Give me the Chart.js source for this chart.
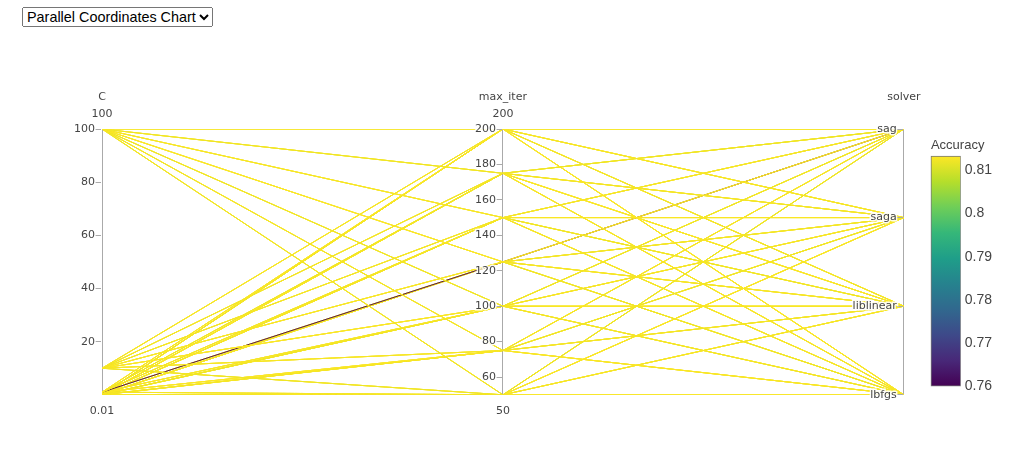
<!DOCTYPE html>
<html>
<head>
<meta charset="utf-8">
<title>Parallel Coordinates Chart</title>
<script src="https://cdn.jsdelivr.net/npm/chart.js@4.4.1/dist/chart.umd.min.js"></script>
<style>
    html, body { margin: 0; padding: 0; background: #fff; }
    #wrap { position: relative; width: 1023px; height: 461px; }
    #chartType { position: absolute; left: 22px; top: 7px; z-index: 2; font: 14.4px Arial, "Liberation Sans", sans-serif; }
    #myChart { position: absolute; left: 0; top: 0; }
</style>
</head>
<body>
<div id="wrap">
    <select id="chartType">
        <option>Parallel Coordinates Chart</option>
        <option>Scatter Chart</option>
    </select>
    <canvas id="myChart" width="1023" height="461"></canvas>
</div>
<script>
// axis names and the range labels plotly puts above / below each axis
const axisNames = ['C', 'max_iter', 'solver']
const rangeTopLabels = ['100', '200', '']
const rangeBottomLabels = ['0.01', '50', '']

// searched hyper parameters
const cValues = [0.01, 0.1, 1, 10, 100]
const maxIterValues = [50, 75, 100, 125, 150, 175, 200]
const solverNames = ['lbfgs', 'liblinear', 'saga', 'sag']

const cTicks = [20, 40, 60, 80, 100]
const maxIterTicks = [60, 80, 100, 120, 140, 160, 180, 200]
const accuracyTicks = [0.76, 0.77, 0.78, 0.79, 0.8, 0.81]

// accuracy, one line per C value: 7 max_iter groups x 4 solvers
const accuracy = [
    [0.8127, 0.8120, 0.8127, 0.8133,  0.8120, 0.8127, 0.8133, 0.8127,  0.8127, 0.8120, 0.8127, 0.8127,  0.8133, 0.8127, 0.8120, 0.8127,  0.8127, 0.8127, 0.8133, 0.8120,  0.8120, 0.8127, 0.8127, 0.8133,  0.8127, 0.8133, 0.8120, 0.8127],
    [0.8120, 0.8127, 0.8133, 0.8127,  0.8127, 0.8133, 0.8120, 0.8127,  0.8133, 0.8127, 0.8127, 0.8120,  0.8127, 0.8120, 0.8133, 0.8127,  0.8120, 0.8133, 0.8127, 0.8127,  0.8127, 0.8120, 0.8127, 0.8133,  0.8133, 0.8127, 0.8120, 0.8127],
    [0.8127, 0.8133, 0.8120, 0.8127,  0.8120, 0.8127, 0.8127, 0.8133,  0.8127, 0.8120, 0.8133, 0.8127,  0.8127, 0.8133, 0.8127, 0.7600,  0.8133, 0.8120, 0.8127, 0.8127,  0.8127, 0.8127, 0.8133, 0.8120,  0.8120, 0.8127, 0.8127, 0.8133],
    [0.8133, 0.8127, 0.8127, 0.8120,  0.8127, 0.8120, 0.8133, 0.8127,  0.8120, 0.8127, 0.8127, 0.8133,  0.8127, 0.8127, 0.8120, 0.8133,  0.8127, 0.8133, 0.8120, 0.8127,  0.8133, 0.8127, 0.8120, 0.8127,  0.8127, 0.8120, 0.8133, 0.8127],
    [0.8127, 0.8127, 0.8133, 0.8120,  0.8133, 0.8127, 0.8120, 0.8127,  0.8127, 0.8133, 0.8127, 0.8120,  0.8120, 0.8127, 0.8127, 0.8133,  0.8127, 0.8120, 0.8133, 0.8127,  0.8127, 0.8133, 0.8127, 0.8120,  0.8133, 0.8127, 0.8127, 0.8127]
]

const colorbarTitle = 'Accuracy'

// viridis colour scale
const viridis = ['#440154', '#482878', '#3e4989', '#31688e', '#26828e', '#1f9e89', '#35b779', '#6ece58', '#b5de2b', '#fde725']

// x positions: axes at 0, 1, 2; the colorbar sits right of the solver axis
const xMax = 2.142
const colorbarX = 2.105
const labelShift = 0.0175   // tick labels sit a few px left of each axis

const cRange = [Math.min(...cValues), Math.max(...cValues)]
const iterRange = [Math.min(...maxIterValues), Math.max(...maxIterValues)]
const accMin = Math.min(...accuracy.flat())
const accMax = Math.max(...accuracy.flat())

function hexToRgb(hex) {
    return [1, 3, 5].map(i => parseInt(hex.slice(i, i + 2), 16))
}

function viridisColor(t, alpha) {
    t = Math.max(0, Math.min(1, t))
    const pos = t * (viridis.length - 1)
    const i = Math.min(Math.floor(pos), viridis.length - 2)
    const f = pos - i
    const a = hexToRgb(viridis[i])
    const b = hexToRgb(viridis[i + 1])
    const rgb = a.map((v, k) => Math.round(v + (b[k] - v) * f))
    return `rgba(${rgb[0]}, ${rgb[1]}, ${rgb[2]}, ${alpha})`
}

function norm(v, range) {
    return (v - range[0]) / (range[1] - range[0])
}

const rows = []
cValues.forEach((c, ci) => {
    maxIterValues.forEach((it, ii) => {
        solverNames.forEach((s, si) => {
            rows.push({c: c, iter: it, solver: si, acc: accuracy[ci][ii * 4 + si]})
        })
    })
})

// first row drawn first -> reverse, chart.js paints the first dataset last
const lineDatasets = rows.map(r => ({
    type: 'line',
    xAxisID: 'x',
    yAxisID: 'y',
    data: [
        {x: 0, y: norm(r.c, cRange)},
        {x: 1, y: norm(r.iter, iterRange)},
        {x: 2, y: r.solver / (solverNames.length - 1)}
    ],
    borderColor: viridisColor(norm(r.acc, [accMin, accMax]), 0.9),
    borderWidth: 1,
    pointRadius: 0,
    tension: 0,
    fill: false
})).reverse()

const colorbarDataset = {
    type: 'bar',
    xAxisID: 'x',
    yAxisID: 'acc',
    data: [{x: colorbarX, y: [accMin, accMax]}],
    barThickness: 30,
    borderWidth: 1,
    borderColor: '#777',
    borderSkipped: false,
    backgroundColor: ctx => {
        const chart = ctx.chart
        if (!chart.chartArea) return viridis[viridis.length - 1]
        const s = chart.scales.acc
        const g = chart.ctx.createLinearGradient(0, s.getPixelForValue(accMin), 0, s.getPixelForValue(accMax))
        viridis.forEach((c, i) => g.addColorStop(i / (viridis.length - 1), c))
        return g
    }
}

const tickFont = {family: 'DejaVu Sans', size: 11}
const textColor = '#444'
const axisColor = '#aaa'

// labels + small tick marks; the axis line itself is the x grid line
function parallelAxis(xValue, min, max, ticks, callback) {
    return {
        type: 'linear',
        position: {x: xValue - labelShift},
        min: min,
        max: max,
        afterBuildTicks: scale => { scale.ticks = ticks.map(v => ({value: v})) },
        ticks: {
            z: 1,
            font: tickFont,
            color: textColor,
            padding: 0,
            textStrokeColor: 'rgba(255,255,255,0.9)',
            textStrokeWidth: 3,
            callback: callback
        },
        grid: {z: 1, drawOnChartArea: false, drawTicks: true, tickLength: -6, color: axisColor},
        border: {display: false}
    }
}

const colorbarTitlePlugin = {
    id: 'colorbarTitle',
    afterDraw(chart) {
        const meta = chart.getDatasetMeta(chart.data.datasets.length - 1)
        const bar = meta.data[0]
        if (!bar) return
        const c = chart.ctx
        c.save()
        c.font = '13px "Liberation Sans", Arial, sans-serif'
        c.fillStyle = textColor
        c.textAlign = 'left'
        c.textBaseline = 'alphabetic'
        c.fillText(colorbarTitle, bar.x - bar.width / 2, bar.y - 7)
        c.restore()
    }
}

const ctx = document.getElementById('myChart').getContext('2d')
const chart = new Chart(ctx, {
    type: 'line',
    data: {
        datasets: lineDatasets.concat([colorbarDataset])
    },
    options: {
        responsive: false,
        animation: false,
        events: [],
        layout: {
            padding: {left: 102, top: 83, right: 27, bottom: 33}
        },
        plugins: {
            legend: {display: false},
            tooltip: {enabled: false}
        },
        scales: {
            x: {
                type: 'linear',
                position: 'bottom',
                min: 0,
                max: xMax,
                offset: false,
                afterBuildTicks: scale => { scale.ticks = axisNames.map((n, i) => ({value: i})) },
                ticks: {
                    font: tickFont,
                    color: textColor,
                    padding: 10,
                    maxRotation: 0,
                    autoSkip: false,
                    callback: v => rangeBottomLabels[v]
                },
                grid: {display: true, drawOnChartArea: true, drawTicks: false, color: axisColor, offset: false},
                border: {display: false}
            },
            xTop: {
                type: 'linear',
                position: 'top',
                min: 0,
                max: xMax,
                offset: false,
                afterBuildTicks: scale => { scale.ticks = axisNames.map((n, i) => ({value: i})) },
                ticks: {
                    font: {family: 'DejaVu Sans', size: 11, lineHeight: '17px'},
                    color: textColor,
                    padding: 6,
                    maxRotation: 0,
                    autoSkip: false,
                    callback: v => [axisNames[v], rangeTopLabels[v]]
                },
                grid: {display: false, drawTicks: false},
                border: {display: false}
            },
            y: {type: 'linear', display: false, min: 0, max: 1},
            yC: parallelAxis(0, cRange[0], cRange[1], cTicks, v => v),
            yIter: parallelAxis(1, iterRange[0], iterRange[1], maxIterTicks, v => v),
            ySolver: parallelAxis(2, 0, solverNames.length - 1, solverNames.map((s, i) => i), v => solverNames[v]),
            acc: {
                type: 'linear',
                position: 'right',
                min: 0.7580,
                max: 0.8196,
                beginAtZero: false,
                afterBuildTicks: scale => { scale.ticks = accuracyTicks.map(v => ({value: v})) },
                ticks: {
                    font: {family: 'Liberation Sans', size: 14},
                    color: textColor,
                    padding: 4,
                    callback: v => String(v)
                },
                grid: {display: false, drawTicks: false},
                border: {display: false}
            }
        }
    },
    plugins: [colorbarTitlePlugin]
})
</script>
</body>
</html>
